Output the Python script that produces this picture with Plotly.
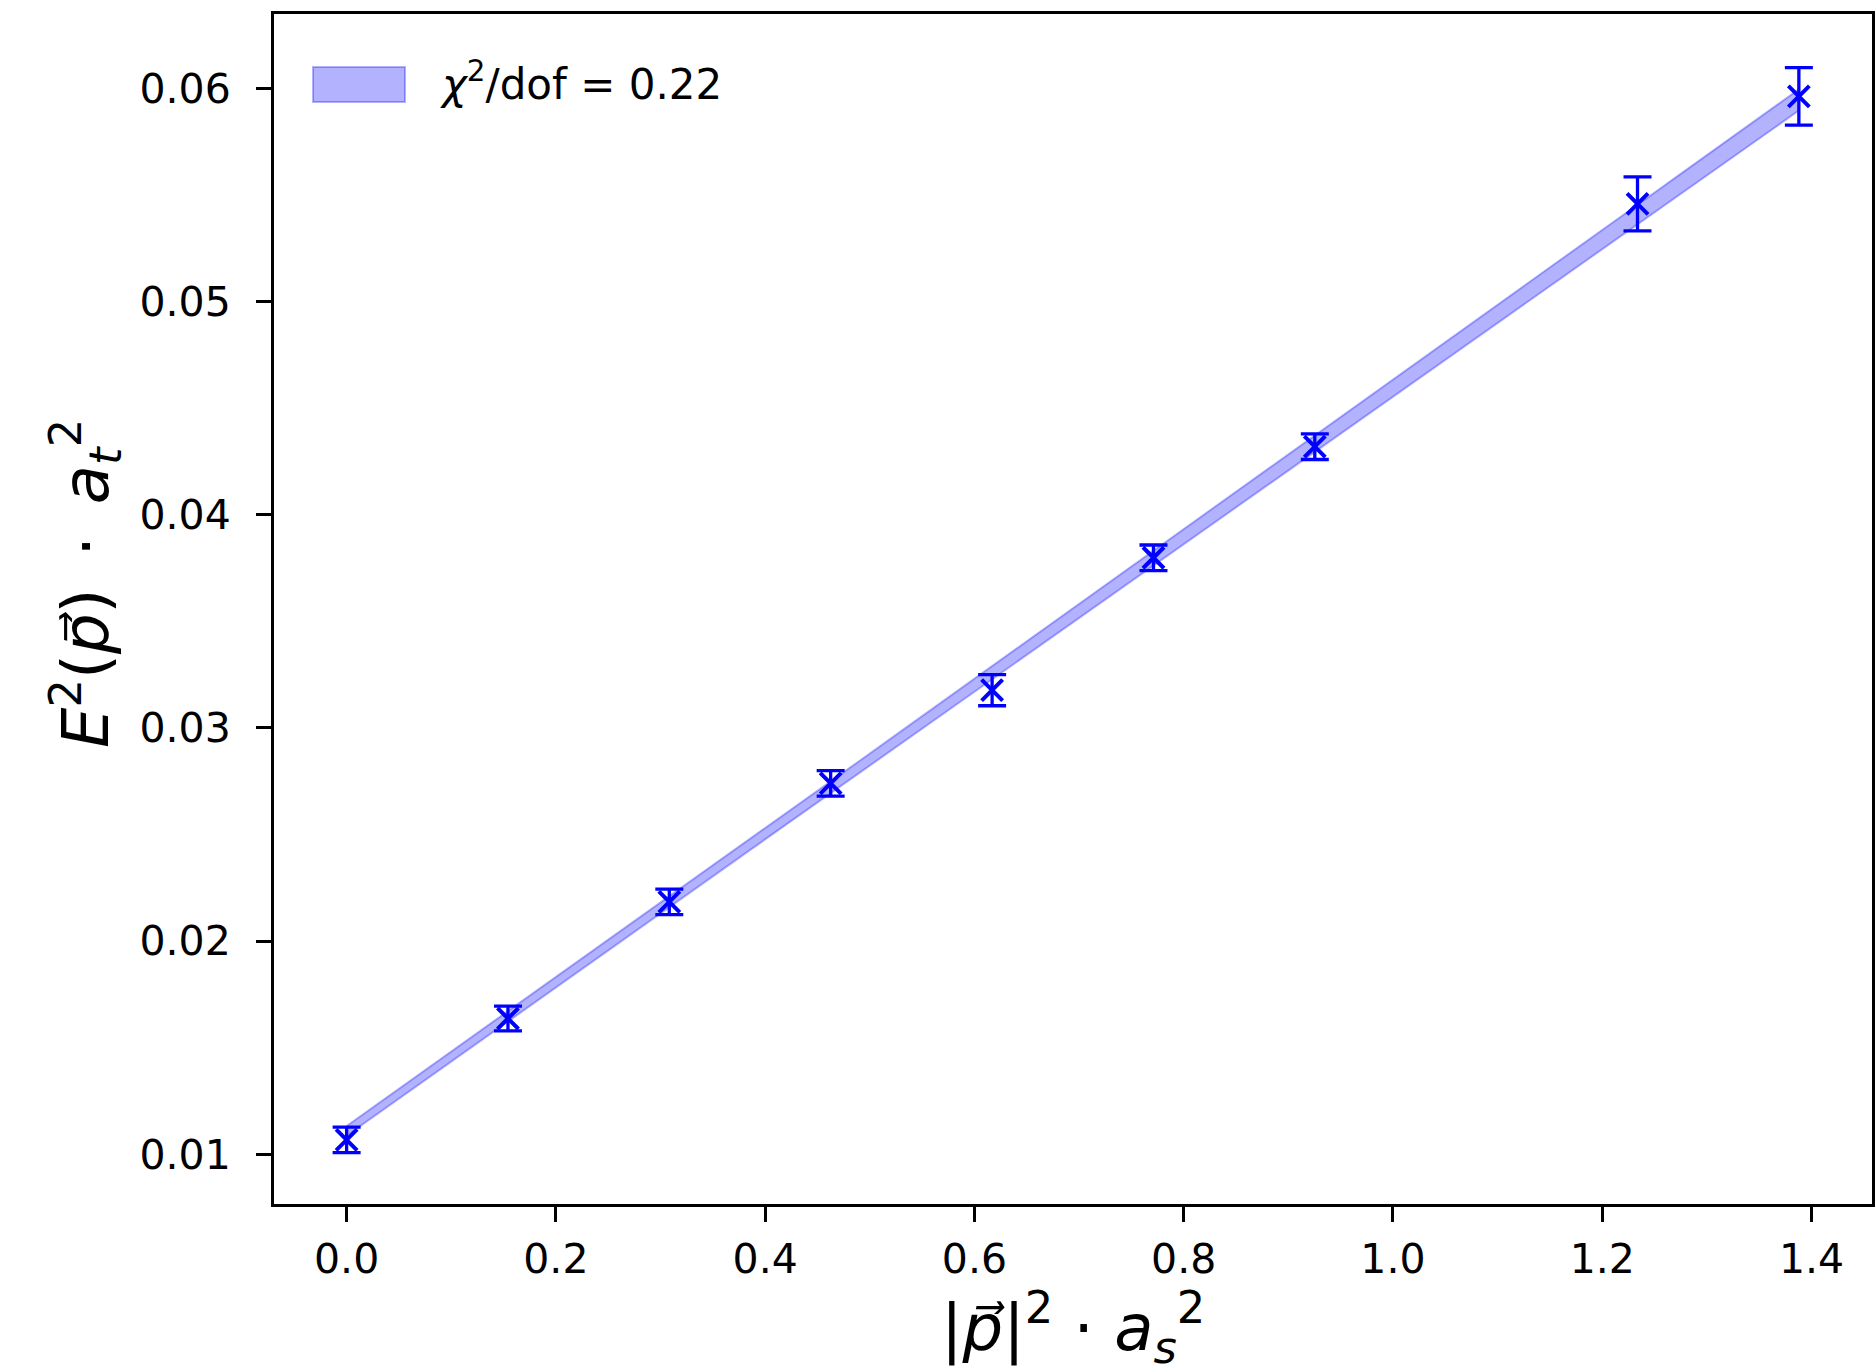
import numpy as np
import plotly.graph_objects as go

# Squared momentum |p|^2 a_s^2 for the measured momentum shells
p2 = [0.0, 0.1542, 0.3084, 0.4626, 0.6169, 0.7711, 0.9253, 1.2337, 1.3879]
# Squared energies E^2(p) a_t^2 and their errors
E2 = [0.01068, 0.01637, 0.02184, 0.02740, 0.03177, 0.03798, 0.04319, 0.05458, 0.05962]
E2_err = [0.00060, 0.00058, 0.00060, 0.00060, 0.00073, 0.00060, 0.00060, 0.00127, 0.00135]

# Linear dispersion fit E^2 = m^2 + c^2 p^2
fit_intercept = 0.0111
fit_slope = 0.03484
fit_intercept_err = 0.00023
fit_slope_err = 0.00032
fit_label = "<i>χ</i><sup>2</sup>/dof = 0.22"

x_title = "|<i>p⃗</i>|<sup>2</sup> · <i>a</i><sub><i>s</i></sub><sup>2</sup>"
y_title = "<i>E</i><sup>2</sup>(<i>p⃗</i>)\u2002·\u2002<i>a</i><sub><i>t</i></sub><sup>2</sup>"

BLUE = "rgb(0,0,255)"
BAND = "rgba(0,0,255,0.3)"
FONT = "DejaVu Sans"

xs = np.linspace(min(p2), max(p2), 60)
centre = fit_intercept + fit_slope * xs
half = np.sqrt(fit_intercept_err**2 + (xs * fit_slope_err) ** 2)
upper = centre + half
lower = centre - half

fig = go.Figure()

fig.add_trace(go.Scatter(
    x=np.concatenate([xs, xs[::-1]]),
    y=np.concatenate([upper, lower[::-1]]),
    mode="lines",
    fill="toself",
    fillcolor=BAND,
    line=dict(color=BAND, width=2),
    hoverinfo="skip",
    showlegend=False,
))

fig.add_trace(go.Scatter(
    x=p2,
    y=E2,
    mode="markers",
    marker=dict(symbol="x-thin", size=21, color=BLUE,
                line=dict(color=BLUE, width=4)),
    error_y=dict(type="data", array=E2_err, visible=True,
                 color=BLUE, thickness=3.3, width=14),
    showlegend=False,
))

# Legend entry for the fit band (plot area is 1598 x 1190 px)
W, H = 1598.0, 1190.0
fig.add_shape(type="rect", xref="paper", yref="paper",
              x0=39 / W, x1=131 / W, y0=1 - 88 / H, y1=1 - 53 / H,
              fillcolor=BAND, line=dict(color=BAND, width=2))
fig.add_annotation(xref="paper", yref="paper", x=164 / W, y=1 - 67 / H,
                   xanchor="left", yanchor="middle", showarrow=False,
                   text=fit_label, font=dict(family=FONT, size=42, color="black"))

# Axis labels, placed like mathtext labels centred on each axis
fig.add_annotation(xref="paper", yref="paper", x=-189 / W, y=1 - 570 / H,
                   xanchor="center", yanchor="middle", showarrow=False,
                   textangle=-90, text=y_title,
                   font=dict(family=FONT, size=64, color="black"))
fig.add_annotation(xref="paper", yref="paper", x=0.5, y=-123 / H,
                   xanchor="center", yanchor="middle", showarrow=False,
                   text=x_title,
                   font=dict(family=FONT, size=64, color="black"))

axis_common = dict(
    showline=True, linecolor="black", linewidth=3, mirror=True,
    ticks="outside", ticklen=15, tickwidth=3, tickcolor="black",
    showgrid=False, zeroline=False,
    tickfont=dict(family=FONT, size=41, color="black"),
)

fig.update_xaxes(
    range=[-0.0694, 1.4578], tick0=0, dtick=0.2, tickformat=".1f",
    ticklabelstandoff=2,
    **axis_common,
)
fig.update_yaxes(
    range=[0.00767, 0.063485], tick0=0.01, dtick=0.01, tickformat=".2f",
    ticklabelstandoff=17,
    **axis_common,
)

fig.update_layout(
    width=1875, height=1372,
    margin=dict(l=274, r=3, t=14, b=168, autoexpand=False),
    paper_bgcolor="white", plot_bgcolor="white",
    font=dict(family=FONT, color="black"),
)

fig.write_html("out.html")
